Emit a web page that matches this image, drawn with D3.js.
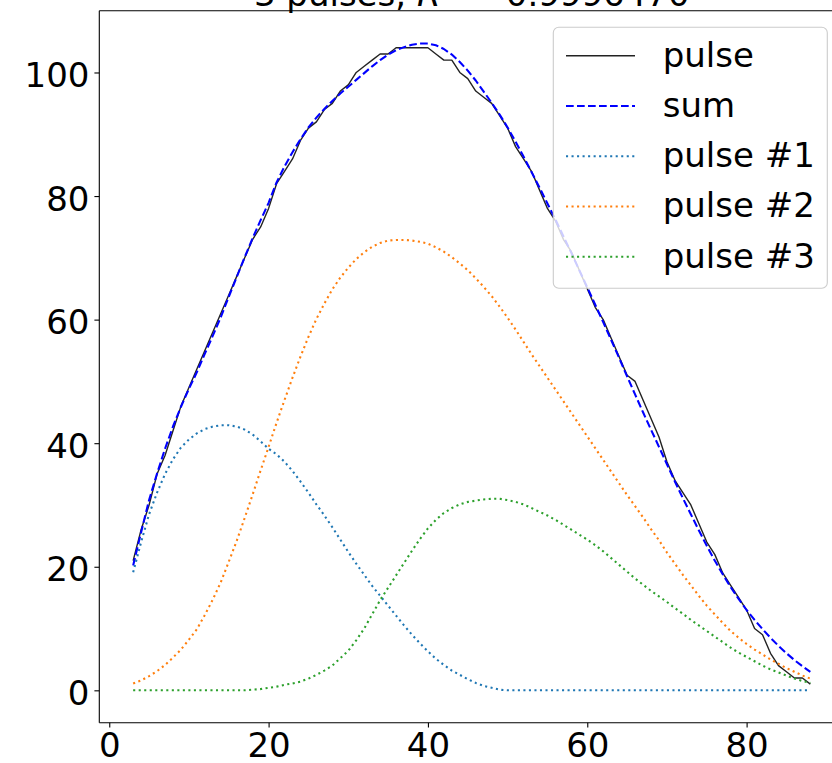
<!DOCTYPE html>
<html>
<head>
<meta charset="utf-8">
<script src="https://cdn.jsdelivr.net/npm/d3@7"></script>
<style>
  body { margin: 0; background: #fff; }
  svg { display: block; font-family: "DejaVu Sans", sans-serif; }
</style>
</head>
<body>
<svg width="832" height="763"></svg>
<script>
// sample index
const xs = [3, 4, 5, 6, 7, 8, 9, 10, 11, 12, 13, 14, 15, 16, 17, 18, 19, 20, 21, 22,
  23, 24, 25, 26, 27, 28, 29, 30, 31, 32, 33, 34, 35, 36, 37, 38, 39, 40, 41, 42,
  43, 44, 45, 46, 47, 48, 49, 50, 51, 52, 53, 54, 55, 56, 57, 58, 59, 60, 61, 62,
  63, 64, 65, 66, 67, 68, 69, 70, 71, 72, 73, 74, 75, 76, 77, 78, 79, 80, 81, 82,
  83, 84, 85, 86, 87, 88];

// measured pulse
const pulse = [21, 26, 30, 35, 38, 42, 46, 49, 52, 55, 58, 61, 64, 67, 70, 73, 75, 78, 82, 84,
  86, 89, 91, 92, 94, 95, 97, 98, 100, 101, 102, 103, 103, 104, 104, 104, 104, 104, 103, 102,
  102, 100, 99, 97, 96, 95, 93, 91, 88, 86, 84, 81, 78, 76, 73, 71, 68, 65, 62, 60,
  57, 54, 51, 50, 47, 44, 41, 37, 34, 32, 30, 27, 24, 22, 19, 17, 15, 13, 10, 9,
  6, 4, 3, 2, 2, 1];

// fitted sum
const sum = [20.2, 25.6, 30.8, 35.1, 39.1, 42.7, 45.9, 48.8, 51.5, 54.5, 57.4, 60.4, 63.7, 66.9, 70.1, 73.2, 76.1, 78.9, 82.2, 84.8,
  87.1, 89.2, 91.1, 92.7, 94.1, 95.4, 96.6, 97.7, 98.8, 99.9, 101.0, 102.0, 102.9, 103.6, 104.1, 104.5, 104.7, 104.7, 104.4, 103.8,
  102.9, 101.7, 100.3, 98.7, 96.9, 95.1, 93.2, 91.1, 88.8, 86.4, 83.9, 81.4, 78.8, 76.2, 73.5, 70.8, 68.0, 65.2, 62.4, 59.6,
  56.7, 53.8, 50.8, 47.9, 45.0, 42.2, 39.4, 36.6, 33.8, 31.1, 28.5, 25.9, 23.4, 21.0, 18.8, 16.7, 14.8, 13.0, 11.4, 9.9,
  8.5, 7.2, 6.0, 4.9, 3.9, 3.0];

// components
const pulse1 = [19.1, 24.0, 28.5, 32.0, 35.0, 37.4, 39.3, 40.6, 41.6, 42.3, 42.7, 42.9, 42.9, 42.7, 42.2, 41.4, 40.3, 39.1, 38.2, 37.0,
  35.5, 33.8, 32.0, 30.1, 28.3, 26.4, 24.4, 22.4, 20.5, 18.7, 16.9, 15.3, 13.7, 12.1, 10.5, 9.0, 7.6, 6.3, 5.1, 4.1,
  3.2, 2.5, 1.8, 1.2, 0.7, 0.4, 0.1, 0, 0, 0, 0, 0, 0, 0, 0, 0, 0, 0, 0, 0,
  0, 0, 0, 0, 0, 0, 0, 0, 0, 0, 0, 0, 0, 0, 0, 0, 0, 0, 0, 0,
  0, 0, 0, 0, 0, 0];

const pulse2 = [1.1, 1.6, 2.3, 3.1, 4.1, 5.3, 6.6, 8.2, 9.9, 12.2, 14.7, 17.5, 20.8, 24.2, 27.9, 31.7, 35.6, 39.4, 43.3, 47.0,
  50.6, 54.0, 57.2, 60.1, 62.6, 64.9, 66.8, 68.4, 69.8, 70.9, 71.8, 72.4, 72.8, 72.9, 72.9, 72.8, 72.6, 72.3, 71.7, 71.0,
  70.1, 69.1, 68.0, 66.7, 65.3, 63.8, 62.1, 60.3, 58.4, 56.4, 54.4, 52.5, 50.6, 48.7, 46.8, 44.9, 43.0, 41.1, 39.2, 37.3,
  35.4, 33.5, 31.6, 29.8, 28.0, 26.1, 24.3, 22.3, 20.5, 18.7, 17.0, 15.3, 13.7, 12.3, 10.9, 9.6, 8.5, 7.5, 6.6, 5.8,
  5.0, 4.3, 3.6, 3.0, 2.4, 1.9];

const pulse3 = [0, 0, 0, 0, 0, 0, 0, 0, 0, 0, 0, 0, 0, 0, 0, 0.1, 0.2, 0.4, 0.6, 0.9,
  1.1, 1.4, 1.9, 2.5, 3.2, 4.0, 5.2, 6.4, 8.1, 10.0, 12.3, 14.6, 16.6, 18.6, 20.6, 22.6, 24.5, 26.2, 27.6, 28.7,
  29.5, 30.1, 30.5, 30.7, 30.9, 31.0, 31.0, 30.8, 30.5, 30.1, 29.5, 28.9, 28.3, 27.6, 26.8, 26.0, 25.2, 24.4, 23.5, 22.5,
  21.4, 20.3, 19.2, 18.1, 17.1, 16.1, 15.2, 14.3, 13.3, 12.4, 11.4, 10.5, 9.6, 8.7, 7.8, 6.9, 6.1, 5.4, 4.7, 4.0,
  3.4, 2.9, 2.4, 1.9, 1.5, 1.2];

const xTicks = [0, 20, 40, 60, 80];
const yTicks = [0, 20, 40, 60, 80, 100];
const titleStart = "3 pulses, ";
const titleValue = " = 0.9996470";

const series = [
  { name: "pulse", values: pulse, color: "#222222", width: 1.4, dash: null },
  { name: "sum", values: sum, color: "#0000ff", width: 2.08, dash: "7.7,3.3" },
  { name: "pulse #1", values: pulse1, color: "#1f77b4", width: 2.08, dash: "2.08,3.44" },
  { name: "pulse #2", values: pulse2, color: "#ff7f0e", width: 2.08, dash: "2.08,3.44" },
  { name: "pulse #3", values: pulse3, color: "#2ca02c", width: 2.08, dash: "2.08,3.44" }
];

const svg = d3.select("svg");

// axes box (right edge falls outside the picture)
const axLeft = 99.3, axRight = 844.2, axTop = 10.7, axBottom = 722.7;
const fontSize = 34;

const x = d3.scaleLinear().domain([-1.25, 92.25]).range([axLeft, axRight]);
const y = d3.scaleLinear().domain([-5.24, 110.0]).range([axBottom, axTop]);

// curves
const line = (vals) => d3.line()
  .x((d, i) => x(xs[i]))
  .y((d) => y(d))(vals);

const plot = svg.append("g");
series.forEach((s) => {
  plot.append("path")
    .attr("d", line(s.values))
    .attr("fill", "none")
    .attr("stroke", s.color)
    .attr("stroke-width", s.width)
    .attr("stroke-dasharray", s.dash)
    .attr("stroke-linejoin", "round");
});

// spines
svg.append("line")
  .attr("x1", axLeft).attr("x2", axLeft).attr("y1", axTop).attr("y2", axBottom)
  .attr("stroke", "#000").attr("stroke-width", 1.1);
svg.append("line")
  .attr("x1", axLeft).attr("x2", axRight).attr("y1", axBottom).attr("y2", axBottom)
  .attr("stroke", "#000").attr("stroke-width", 1.1);
svg.append("line")
  .attr("x1", axLeft).attr("x2", axRight).attr("y1", axTop).attr("y2", axTop)
  .attr("stroke", "#000").attr("stroke-width", 1.1);

// ticks
const xAxis = svg.append("g")
  .attr("transform", `translate(0, ${axBottom})`)
  .call(d3.axisBottom(x).tickValues(xTicks).tickSize(4.9).tickPadding(4.9));
const yAxis = svg.append("g")
  .attr("transform", `translate(${axLeft}, 0)`)
  .call(d3.axisLeft(y).tickValues(yTicks).tickSize(4.9).tickPadding(4.9));

[xAxis, yAxis].forEach((a) => {
  a.select(".domain").remove();
  a.selectAll(".tick line").attr("stroke", "#000").attr("stroke-width", 1.1);
  a.selectAll(".tick text")
    .attr("fill", "#000")
    .style("font-family", "DejaVu Sans")
    .style("font-size", fontSize + "px");
});
yAxis.selectAll(".tick text").attr("dy", "0.41em");

// title, mostly cut off at the top
const t = svg.append("text")
  .attr("x", (axLeft + axRight) / 2)
  .attr("y", 6)
  .attr("text-anchor", "middle")
  .style("font-size", fontSize + "px");
t.append("tspan").text(titleStart);
t.append("tspan").attr("font-style", "italic").text("R");
t.append("tspan").attr("font-size", fontSize * 0.7 + "px").attr("dy", -14).text("2");
t.append("tspan").attr("dy", 14).text(titleValue);

// legend
const legend = svg.append("g");
legend.append("rect")
  .attr("x", 553.3).attr("y", 27.3)
  .attr("width", 274).attr("height", 261)
  .attr("rx", 5.5)
  .attr("fill", "#fff").attr("fill-opacity", 0.8)
  .attr("stroke", "#cccccc").attr("stroke-width", 1.1);

series.forEach((s, i) => {
  const ly = 55.7 + i * 50.25;
  legend.append("line")
    .attr("x1", 566).attr("x2", 635)
    .attr("y1", ly).attr("y2", ly)
    .attr("stroke", s.color)
    .attr("stroke-width", s.width)
    .attr("stroke-dasharray", s.dash);
  legend.append("text")
    .attr("x", 662.7).attr("y", ly + 11)
    .style("font-size", fontSize + "px")
    .text(s.name);
});
</script>
</body>
</html>
